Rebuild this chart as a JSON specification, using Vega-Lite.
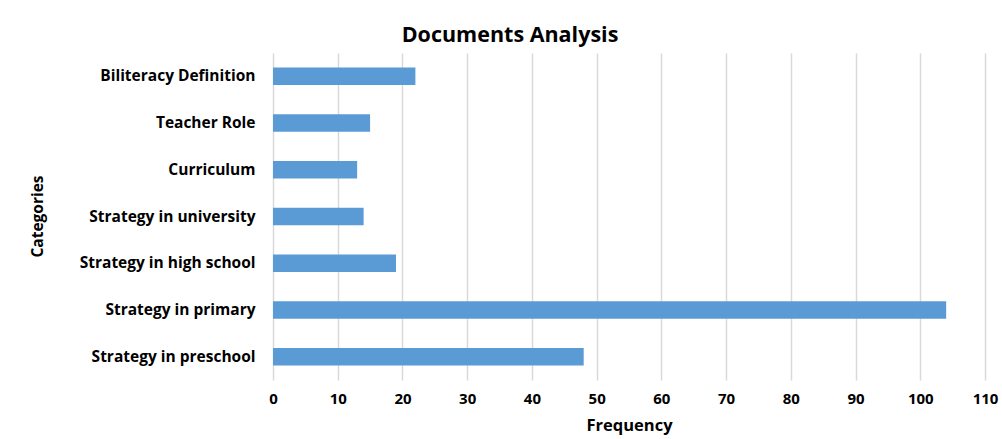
{
  "$schema": "https://vega.github.io/schema/vega-lite/v6.json",
  "autosize": "none",
  "width": 712,
  "height": 327,
  "padding": {"left": 273, "top": 53, "right": 17, "bottom": 59},
  "background": "white",
  "title": {
    "text": "Documents Analysis",
    "font": "Open Sans",
    "fontSize": 21.5,
    "fontWeight": "bold",
    "color": "#000000",
    "dx": -119,
    "dy": 21,
    "offset": 6,
    "baseline": "bottom"
  },
  "data": {
    "values": [
      {"category": "Biliteracy Definition", "frequency": 22},
      {"category": "Teacher Role", "frequency": 15},
      {"category": "Curriculum\u00a0", "frequency": 13},
      {"category": "Strategy in university\u00a0", "frequency": 14},
      {"category": "Strategy in high school", "frequency": 19},
      {"category": "Strategy in primary", "frequency": 104},
      {"category": "Strategy in preschool", "frequency": 48}
    ]
  },
  "mark": {"type": "bar", "color": "#5b9bd5"},
  "encoding": {
    "y": {
      "field": "category",
      "type": "nominal",
      "sort": null,
      "scale": {"paddingInner": 0.625, "paddingOuter": 0.3125},
      "axis": {
        "title": "Categories",
        "titleFont": "Open Sans",
        "titleFontSize": 15.5,
        "titleFontWeight": "bold",
        "titleColor": "#000000",
        "titleX": -236,
        "titleY": 163,
        "titleAngle": -90,
        "titleAlign": "center",
        "titleBaseline": "middle",
        "labelFont": "Open Sans",
        "labelFontSize": 15.5,
        "labelFontWeight": "bold",
        "labelColor": "#000000",
        "labelPadding": 18,
        "labelLimit": 300,
        "ticks": false,
        "domain": false,
        "grid": false
      }
    },
    "x": {
      "field": "frequency",
      "type": "quantitative",
      "scale": {"domain": [0, 110], "nice": false},
      "axis": {
        "title": "Frequency",
        "titleFont": "Open Sans",
        "titleFontSize": 16.5,
        "titleFontWeight": "bold",
        "titleColor": "#000000",
        "titleY": 45,
        "titleBaseline": "middle",
        "values": [0, 10, 20, 30, 40, 50, 60, 70, 80, 90, 100, 110],
        "labelFont": "Open Sans",
        "labelFontSize": 15,
        "labelFontWeight": "bold",
        "labelColor": "#000000",
        "labelPadding": 11,
        "labelFlush": false,
        "ticks": false,
        "domain": false,
        "grid": true,
        "gridColor": "#d9d9d9",
        "gridWidth": 1.5
      }
    }
  },
  "config": {"view": {"stroke": null}}
}
